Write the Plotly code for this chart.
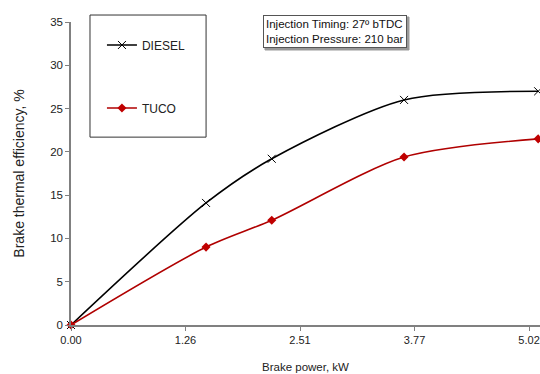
import plotly.graph_objects as go

power = [0.0, 1.48, 2.2, 3.65, 5.12]
diesel = [0.0, 14.1, 19.2, 26.0, 27.0]
tuco = [0.0, 9.0, 12.1, 19.4, 21.5]
xtick_vals = [0.0, 1.255, 2.51, 3.765, 5.02]
xtick_text = ["0.00", "1.26", "2.51", "3.77", "5.02"]
ytick_vals = [0, 5, 10, 15, 20, 25, 30, 35]

FONT = "Liberation Sans, Arial, sans-serif"

fig = go.Figure()
fig.add_trace(go.Scatter(
    x=power, y=diesel, name="DIESEL", mode="lines+markers",
    line=dict(color="#000000", width=1.6, shape="spline", smoothing=0.8),
    marker=dict(symbol="x-thin", size=8, line=dict(color="#000000", width=1)),
    legendgroup="a", cliponaxis=False,
))
fig.add_trace(go.Scatter(
    x=power, y=tuco, name="TUCO", mode="lines+markers",
    line=dict(color="#B00000", width=1.6, shape="spline", smoothing=0.8),
    marker=dict(symbol="diamond", size=7, color="#C00000"),
    legendgroup="b", cliponaxis=False,
))

fig.update_layout(
    width=540, height=374,
    margin=dict(l=71, r=0, t=22, b=49),
    paper_bgcolor="white", plot_bgcolor="white",
    font=dict(family=FONT, size=12, color="#222222"),
    showlegend=True,
    legend=dict(
        x=0.066, y=0.972, xanchor="left", yanchor="top",
        bgcolor="rgba(0,0,0,0)", borderwidth=0,
        tracegroupgap=44, itemwidth=30,
        font=dict(family=FONT, size=12, color="#222222"),
    ),
    xaxis=dict(
        range=[0, 5.14], tickvals=xtick_vals, ticktext=xtick_text,
        showgrid=False, zeroline=False, showline=True, linecolor="#808080", linewidth=1.5,
        ticks="outside", ticklen=4, tickcolor="#808080", automargin=False,
        ticklabeloverflow="allow",
        title=dict(text="Brake power, kW", font=dict(size=11.5), standoff=18),
        tickfont=dict(size=11),
    ),
    yaxis=dict(
        range=[0, 35], tickvals=ytick_vals,
        showgrid=False, zeroline=False, showline=True, linecolor="#808080", linewidth=1.5,
        ticks="outside", ticklen=4, tickcolor="#808080", automargin=False,
        title=dict(text="Brake thermal efficiency, %", font=dict(size=14), standoff=22),
        tickfont=dict(size=11.5),
    ),
    shapes=[
        dict(type="rect", xref="paper", yref="paper",
             x0=0.0405, x1=0.288, y0=0.620, y1=1.023,
             line=dict(color="#333333", width=1), fillcolor="rgba(0,0,0,0)", layer="below"),
        dict(type="rect", xref="paper", yref="paper",
             x0=0.4136, x1=0.7207, y0=0.9076, y1=1.0165,
             line=dict(color="#999999", width=1), fillcolor="#999999", layer="above"),
    ],
    annotations=[
        dict(xref="paper", yref="paper", x=0.563, y=0.970,
             xanchor="center", yanchor="middle", align="left", showarrow=False,
             text="Injection Timing: 27º bTDC<br>Injection Pressure: 210 bar",
             font=dict(family=FONT, size=11.5, color="#111111"),
             bordercolor="#555555", borderwidth=1, borderpad=2, bgcolor="white"),
    ],
)

fig.write_html("out.html", config={"displayModeBar": False},
               post_script="document.body.style.margin='0';")
